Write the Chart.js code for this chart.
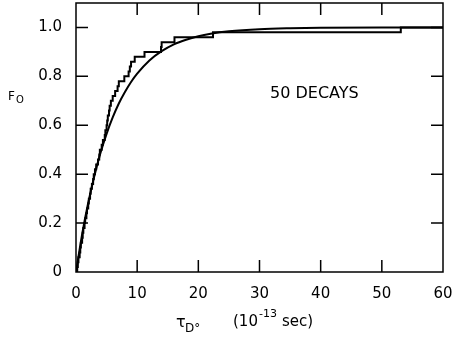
<!DOCTYPE html>
<html>
<head>
<meta charset="utf-8">
<script src="https://cdn.jsdelivr.net/npm/chart.js@4"></script>
<style>
  html, body { margin: 0; padding: 0; background: #fff; }
  #wrap { width: 454px; height: 337px; }
</style>
</head>
<body>
<div id="wrap"><canvas id="decayChart" width="454" height="337"></canvas></div>
<script>
// sorted decay times (10^-13 sec)
const decayTimes = [
  0.2, 0.3, 0.4, 0.6, 0.7, 0.8, 1.0, 1.1, 1.2, 1.4,
  1.5, 1.7, 1.8, 2.0, 2.1, 2.3, 2.4, 2.6, 2.8, 2.9,
  3.1, 3.3, 3.6, 3.8, 3.9, 4.2, 4.4, 4.7, 4.8, 5.0,
  5.1, 5.2, 5.4, 5.5, 5.7, 6.0, 6.4, 6.8, 7.0, 7.9,
  8.6, 8.8, 9.0, 9.6, 11.2, 13.9, 14.0, 16.1, 22.4, 53.1
];

// smooth fitted curve
const fitTimes  = [0, 1, 2, 3, 4, 5, 6, 7, 8, 9, 10, 12, 14, 16, 18, 20, 22, 25, 30, 35, 40, 50, 60];
const fitValues = [0, 0.154, 0.283, 0.393, 0.487, 0.565, 0.632, 0.689, 0.736, 0.777, 0.811,
                   0.865, 0.903, 0.931, 0.950, 0.964, 0.974, 0.984, 0.993, 0.997, 0.999, 1.0, 1.0];

const xTicks = [0, 10, 20, 30, 40, 50, 60];
const yTicks = [0, 0.2, 0.4, 0.6, 0.8, 1.0];
const annotationText = '50 DECAYS';

const FONT = '"DejaVu Sans", "Liberation Sans", sans-serif';

function cumulativeFraction(times) {
  const pts = [{ x: 0, y: 0 }];
  times.forEach((t, i) => pts.push({ x: t, y: (i + 1) / times.length }));
  pts.push({ x: 60, y: 1.0 });
  return pts;
}

const frameAndText = {
  id: 'frameAndText',
  afterDatasetsDraw(chart) {
    const { ctx, chartArea: a, scales } = chart;
    const tl = 12;
    ctx.save();
    ctx.strokeStyle = '#000';
    ctx.lineWidth = 1.5;
    ctx.strokeRect(a.left, a.top, a.right - a.left, a.bottom - a.top);

    ctx.beginPath();
    xTicks.slice(1, -1).forEach(v => {
      const px = scales.x.getPixelForValue(v);
      ctx.moveTo(px, a.bottom); ctx.lineTo(px, a.bottom - tl);
      ctx.moveTo(px, a.top); ctx.lineTo(px, a.top + tl);
    });
    yTicks.slice(1).forEach(v => {
      const py = scales.y.getPixelForValue(v);
      ctx.moveTo(a.left, py); ctx.lineTo(a.left + tl, py);
      ctx.moveTo(a.right, py); ctx.lineTo(a.right - tl, py);
    });
    ctx.stroke();

    ctx.fillStyle = '#000';
    ctx.textBaseline = 'alphabetic';
    ctx.textAlign = 'left';

    // annotation
    ctx.font = '16px ' + FONT;
    ctx.fillText(annotationText, 270, 98);

    // y title F_o
    ctx.font = '12px ' + FONT;
    ctx.fillText('F', 8, 100);
    ctx.font = '10px ' + FONT;
    ctx.fillText('O', 16, 103);

    // x title
    ctx.font = '16px ' + FONT;
    ctx.fillText('\u03c4', 176, 327);
    ctx.font = '12px ' + FONT;
    ctx.fillText('D\u00b0', 185, 332);
    ctx.font = '15px ' + FONT;
    ctx.fillText('(10', 233, 326);
    ctx.font = '11px ' + FONT;
    ctx.fillText('-13', 259, 317);
    ctx.font = '15px ' + FONT;
    ctx.fillText('sec)', 282, 326);
    ctx.restore();
  }
};

new Chart(document.getElementById('decayChart').getContext('2d'), {
  type: 'line',
  data: {
    datasets: [
      {
        label: 'decays',
        data: cumulativeFraction(decayTimes),
        stepped: 'before',
        borderColor: '#000',
        borderWidth: 2,
        pointRadius: 0,
        fill: false
      },
      {
        label: 'fit',
        data: fitTimes.map((t, i) => ({ x: t, y: fitValues[i] })),
        cubicInterpolationMode: 'monotone',
        borderColor: '#000',
        borderWidth: 2,
        pointRadius: 0,
        fill: false
      }
    ]
  },
  options: {
    responsive: false,
    animation: false,
    layout: { padding: { top: 3, right: 11, left: 0, bottom: 0 } },
    plugins: { legend: { display: false }, tooltip: { enabled: false } },
    scales: {
      x: {
        type: 'linear',
        min: 0,
        max: 60,
        afterFit: s => { s.height = 65; s.paddingLeft = 0; s.paddingRight = 0; },
        grid: { display: false, drawTicks: false },
        border: { display: false },
        ticks: {
          stepSize: 10,
          padding: 13,
          color: '#000',
          font: { family: FONT, size: 15 },
          maxRotation: 0
        }
      },
      y: {
        min: 0,
        max: 1.1,
        afterFit: s => { s.width = 76; s.paddingTop = 0; s.paddingBottom = 0; },
        grid: { display: false, drawTicks: false },
        border: { display: false },
        ticks: {
          stepSize: 0.2,
          padding: 14,
          color: '#000',
          font: { family: FONT, size: 15 },
          callback: v => (v > 1.05 ? '' : v === 0 ? '0' : v.toFixed(1))
        }
      }
    }
  },
  plugins: [frameAndText]
});
</script>
</body>
</html>
